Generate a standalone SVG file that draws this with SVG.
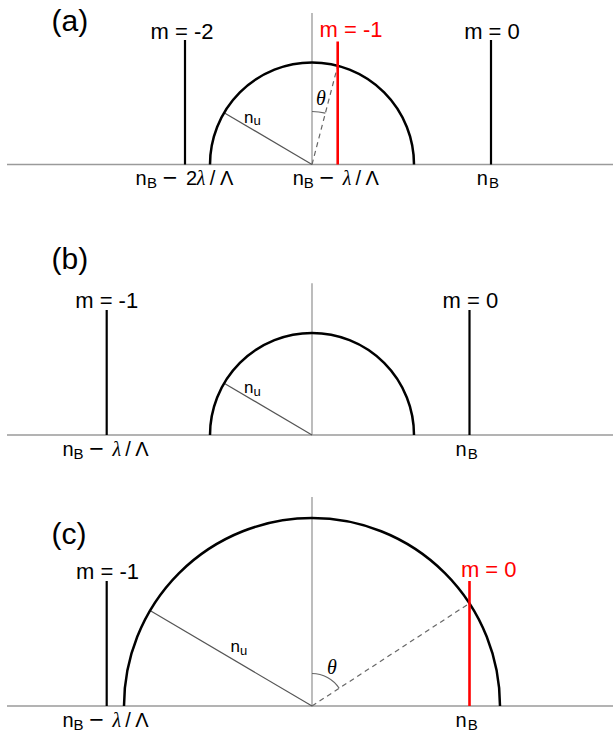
<svg xmlns="http://www.w3.org/2000/svg" width="613" height="740" viewBox="0 0 613 740">
<style>
text{font-family:"Liberation Sans",Arial,sans-serif;fill:#000}
.pl{font-size:30px}
.m{font-size:22px;text-anchor:middle}
.ax{font-size:20px}
.sub{font-size:15px}
.mi{font-size:25px}
.nu{font-size:17px}
.nus{font-size:13px}
.it{font-family:"Liberation Serif","Times New Roman",serif;font-style:italic}
.th{font-family:"Liberation Serif","Times New Roman",serif;font-style:italic;font-size:20px;text-anchor:middle}
.red{fill:#ff0000}
.axis{stroke:#9a9a9a;stroke-width:1.6;fill:none}
.vert{stroke:#999;stroke-width:1.3;fill:none}
.circ{stroke:#000;stroke-width:2.5;fill:none}
.ord{stroke:#000;stroke-width:2.2;fill:none}
.ordr{stroke:#ff0000;stroke-width:2.6;fill:none}
.rad{stroke:#555;stroke-width:1.2;fill:none}
.dash{stroke:#666;stroke-width:1.2;fill:none;stroke-dasharray:5 4}
.arc{stroke:#666;stroke-width:1.2;fill:none}
</style>

<g id="panel-a">
  <text class="pl" x="51.5" y="30.7">(a)</text>
  <g id="a-connectors">
    <line class="axis" x1="7" y1="164.5" x2="613" y2="164.5"/>
    <line class="vert" x1="312" y1="13" x2="312" y2="164.5"/>
    <line class="rad" x1="312" y1="164.5" x2="224.1" y2="112.7"/>
    <line class="dash" x1="312" y1="164.5" x2="337.7" y2="65.8"/>
    <path class="arc" d="M312 111.5 A53 53 0 0 1 325.4 113.2"/>
  </g>
  <g id="a-circle"><path class="circ" d="M210 164.5 A102 102 0 0 1 414 164.5"/></g>
  <g id="a-m-2">
    <line class="ord" x1="185" y1="40" x2="185" y2="164.5"/>
    <text class="m" x="182" y="38.5">m = -2</text>
  </g>
  <g id="a-m-1">
    <line class="ordr" x1="337.7" y1="41.5" x2="337.7" y2="164.5"/>
    <text class="m red" x="351" y="37">m = -1</text>
  </g>
  <g id="a-m0">
    <line class="ord" x1="491" y1="40" x2="491" y2="164.5"/>
    <text class="m" x="492" y="38.5">m = 0</text>
  </g>
  <text class="nu" x="244" y="122.7">n<tspan class="nus" dy="2.6">u</tspan></text>
  <text class="th" x="321" y="105">θ</text>
  <text class="ax" y="185"><tspan x="135.4">n</tspan><tspan class="sub" x="147.1" y="188">B</tspan><tspan class="mi" x="162.8" y="186.3">−</tspan><tspan x="186.1" y="185">2</tspan><tspan class="it" x="196.7">λ</tspan><tspan x="209.7">/</tspan><tspan x="220">Λ</tspan></text>
  <text class="ax" y="185"><tspan x="292.7">n</tspan><tspan class="sub" x="303.8" y="188">B</tspan><tspan class="mi" x="319.5" y="186.3">−</tspan><tspan class="it" x="342.7" y="185">λ</tspan><tspan x="355.5">/</tspan><tspan x="365.5">Λ</tspan></text>
  <text class="ax" y="185"><tspan x="476.7">n</tspan><tspan class="sub" x="489" y="188">B</tspan></text>
</g>

<g id="panel-b">
  <text class="pl" x="51.5" y="268.7">(b)</text>
  <g id="b-connectors">
    <line class="axis" x1="7" y1="435" x2="613" y2="435"/>
    <line class="vert" x1="312" y1="283.3" x2="312" y2="435"/>
    <line class="rad" x1="312" y1="435" x2="224.1" y2="383.2"/>
  </g>
  <g id="b-circle"><path class="circ" d="M210 435 A102 102 0 0 1 414 435"/></g>
  <g id="b-m-1">
    <line class="ord" x1="106.7" y1="310" x2="106.7" y2="435"/>
    <text class="m" x="106.7" y="308.3">m = -1</text>
  </g>
  <g id="b-m0">
    <line class="ord" x1="469.5" y1="310" x2="469.5" y2="435"/>
    <text class="m" x="470.4" y="308.3">m = 0</text>
  </g>
  <text class="nu" x="244" y="393.2">n<tspan class="nus" dy="2.6">u</tspan></text>
  <text class="ax" y="455.5"><tspan x="62.4">n</tspan><tspan class="sub" x="73.5" y="458.5">B</tspan><tspan class="mi" x="89.2" y="456.8">−</tspan><tspan class="it" x="112.4" y="455.5">λ</tspan><tspan x="125.2">/</tspan><tspan x="135.2">Λ</tspan></text>
  <text class="ax" y="455.5"><tspan x="455.5">n</tspan><tspan class="sub" x="467.8" y="458.5">B</tspan></text>
</g>

<g id="panel-c">
  <text class="pl" x="51.5" y="543.7">(c)</text>
  <g id="c-connectors">
    <line class="axis" x1="7" y1="706" x2="613" y2="706"/>
    <line class="vert" x1="312" y1="497" x2="312" y2="706"/>
    <line class="rad" x1="312" y1="706" x2="150" y2="610.6"/>
    <line class="dash" x1="312" y1="706" x2="469.5" y2="603.3"/>
    <path class="arc" d="M312 673.5 A32.5 32.5 0 0 1 339.2 688.25"/>
  </g>
  <g id="c-circle"><path class="circ" d="M124 706 A188 188 0 0 1 500 706"/></g>
  <g id="c-m-1">
    <line class="ord" x1="106.7" y1="581" x2="106.7" y2="706"/>
    <text class="m" x="107.5" y="579">m = -1</text>
  </g>
  <g id="c-m0">
    <line class="ordr" x1="469.5" y1="581" x2="469.5" y2="706"/>
    <text class="m red" x="488.7" y="577">m = 0</text>
  </g>
  <text class="nu" x="230.5" y="651.7">n<tspan class="nus" dy="2.8">u</tspan></text>
  <text class="th" x="332" y="674">θ</text>
  <text class="ax" y="726.5"><tspan x="62.4">n</tspan><tspan class="sub" x="73.5" y="729.5">B</tspan><tspan class="mi" x="89.2" y="727.8">−</tspan><tspan class="it" x="112.4" y="726.5">λ</tspan><tspan x="125.2">/</tspan><tspan x="135.2">Λ</tspan></text>
  <text class="ax" y="726.5"><tspan x="455.5">n</tspan><tspan class="sub" x="467.8" y="729.5">B</tspan></text>
</g>
</svg>
